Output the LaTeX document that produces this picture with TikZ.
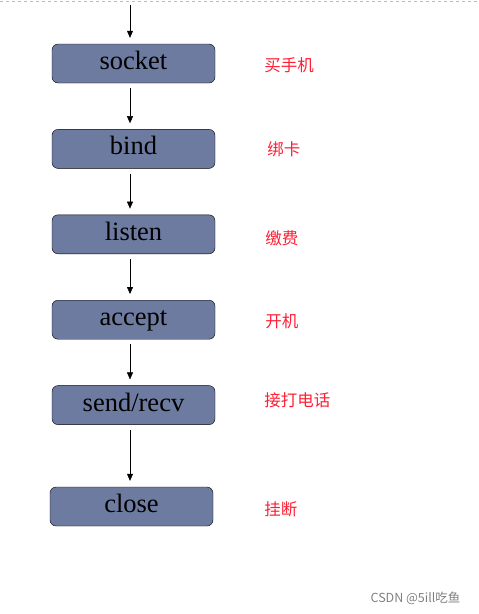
\documentclass[tikz,border=0pt]{standalone}
\usepackage{fontspec}
\setmainfont{Liberation Serif}
\newfontfamily\cjk{Noto Sans CJK SC}
\usetikzlibrary{arrows.meta,positioning}
\definecolor{boxblue}{HTML}{6E7BA0}
\definecolor{notered}{HTML}{FF1F35}
\definecolor{rulerblue}{HTML}{A9C0DA}

\begin{document}
\begin{tikzpicture}[
      x=1pt,y=1pt,
      mybox/.style={
         rectangle,
         rounded corners=6pt,
         draw=black,
         fill=boxblue,
         inner sep=0pt,
         minimum width=163pt,
         minimum height=39pt,
         text height=17.5pt,
         text depth=5.5pt,
         font=\fontsize{26.5}{26.5}\selectfont},
      mynote/.style={
         anchor=west,
         inner sep=0pt,
         text=notered,
         font=\cjk\fontsize{16.5}{16.5}\selectfont},
      myarrow/.style={-{Triangle[length=7pt,width=6pt]},shorten <=5pt,shorten >=6pt},
      node distance=46pt and 49pt
      ]
      \useasboundingbox (0,0) rectangle (479,-614);
      \draw[rulerblue,dashed] (0,-1) -- (479,-1);

      \node[mybox] (socket) at (133.5,-63.5) {socket};
      \node[mybox,below=of socket] (bind) {bind};
      \node[mybox,below=of bind] (listen) {listen};
      \node[mybox,below=of listen] (accept) {accept};
      \node[mybox,below=of accept] (sendrecv) {send/recv};
      \node[mybox,below=64pt of sendrecv,xshift=-2pt,yshift=2pt] (close) {close};
      \coordinate[above=39pt of socket.north,xshift=-3.5pt] (start);

      \node[mynote,right=49pt of socket.east,yshift=-1.5pt] (buy) {买手机};
      \node[mynote,right=52pt of bind.east,yshift=-0.5pt] (card) {绑卡};
      \node[mynote,right=50pt of listen.east,yshift=-3.5pt] (pay) {缴费};
      \node[mynote,right=50pt of accept.east,yshift=-1.5pt] (poweron) {开机};
      \node[mynote,right=49pt of sendrecv.east,yshift=4.5pt] (call) {接打电话};
      \node[mynote,right=51pt of close.east,yshift=-3pt] (hangup) {挂断};

      \node[anchor=east,text=gray,font=\cjk\fontsize{12.5}{12.5}\selectfont] (mark) at (464,-598) {CSDN @5ill吃鱼};

    \foreach \i/\j in {% start node/end node
      socket/bind,
      bind/listen,
      listen/accept,
      accept/sendrecv,
      sendrecv/close}
       \draw [myarrow] ([xshift=-3.5pt]\i.south) -- ([xshift=-3.5pt]\i.south |- \j.north);
    \draw [myarrow,shorten <=0pt] (start) -- (start |- socket.north);

    \end{tikzpicture}
\end{document}
